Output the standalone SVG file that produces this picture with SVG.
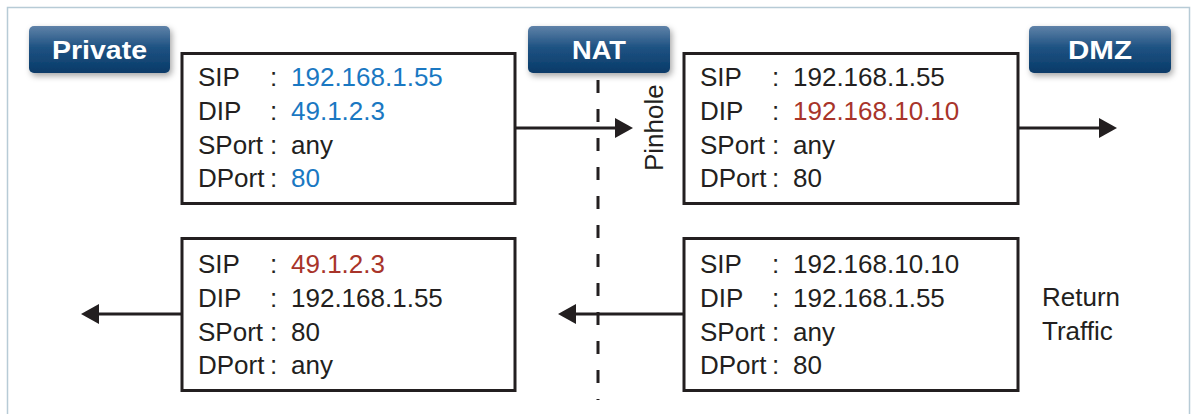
<svg xmlns="http://www.w3.org/2000/svg" width="1193" height="414" viewBox="0 0 1193 414">
  <style>
    .frame { fill: #ffffff; stroke: #b7cbd6; stroke-width: 1.5; }
    .box { fill: #ffffff; stroke: #231f20; stroke-width: 3; }
    .t { font-family: "Liberation Sans", Arial, sans-serif; font-size: 26px; fill: #231f20; }
    .blue { fill: #1a78c2; }
    .red { fill: #a8342a; }
    .btn { fill: url(#btnGrad); filter: url(#shadow); }
    .btnText { font-family: "Liberation Sans", Arial, sans-serif; font-size: 26px; font-weight: bold; fill: #ffffff; text-anchor: middle; }
    .conn { stroke: #231f20; stroke-width: 3; fill: none; }
    .dash { stroke: #231f20; stroke-width: 3; stroke-dasharray: 13 16; fill: none; }
  </style>
  <defs>
    <linearGradient id="btnGrad" x1="0" y1="0" x2="0" y2="1">
      <stop offset="0" stop-color="#5f82a8"/>
      <stop offset="0.45" stop-color="#1f5383"/>
      <stop offset="1" stop-color="#083a68"/>
    </linearGradient>
    <filter id="shadow" x="-20%" y="-30%" width="140%" height="170%">
      <feDropShadow dx="2" dy="3" stdDeviation="3" flood-color="#000000" flood-opacity="0.35"/>
    </filter>
    <marker id="arrow" viewBox="0 0 18 20" refX="10" refY="10" markerWidth="18" markerHeight="20" markerUnits="userSpaceOnUse" orient="auto">
      <path d="M0,0 L18,10 L0,20 z" fill="#231f20"/>
    </marker>
  </defs>

  <rect class="frame" x="7.5" y="7.5" width="1182" height="420"/>

  <g id="private">
    <rect class="btn" x="29" y="26" width="141" height="47" rx="5"/>
    <text class="btnText" x="99.5" y="59" textLength="95" lengthAdjust="spacingAndGlyphs">Private</text>
  </g>
  <g id="nat">
    <rect class="btn" x="528" y="26" width="142" height="47" rx="5"/>
    <text class="btnText" x="599" y="59" textLength="54" lengthAdjust="spacingAndGlyphs">NAT</text>
  </g>
  <g id="dmz">
    <rect class="btn" x="1029" y="26" width="142" height="47" rx="5"/>
    <text class="btnText" x="1100" y="59" textLength="64" lengthAdjust="spacingAndGlyphs">DMZ</text>
  </g>

  <g id="connectors">
    <line class="dash" x1="598" y1="80" x2="598" y2="400"/>
    <line class="conn" x1="515" y1="128" x2="625" y2="128" marker-end="url(#arrow)"/>
    <line class="conn" x1="1018" y1="128" x2="1109" y2="128" marker-end="url(#arrow)"/>
    <line class="conn" x1="684" y1="314" x2="566" y2="314" marker-end="url(#arrow)"/>
    <line class="conn" x1="182" y1="314" x2="89" y2="314" marker-end="url(#arrow)"/>
  </g>

  <g id="pinhole-label">
    <text class="t" transform="translate(663,171) rotate(-90)">Pinhole</text>
  </g>

  <g id="box-private-out">
    <rect class="box" x="182" y="53.5" width="333" height="150"/>
    <text class="t" x="198" y="86">SIP</text><text class="t" x="270" y="86">:</text><text class="t blue" x="291" y="86">192.168.1.55</text>
    <text class="t" x="198" y="120">DIP</text><text class="t" x="270" y="120">:</text><text class="t blue" x="291" y="120">49.1.2.3</text>
    <text class="t" x="198" y="153.5">SPort</text><text class="t" x="270" y="153.5">:</text><text class="t" x="291" y="153.5">any</text>
    <text class="t" x="198" y="187">DPort</text><text class="t" x="270" y="187">:</text><text class="t blue" x="291" y="187">80</text>
  </g>

  <g id="box-dmz-in">
    <rect class="box" x="684" y="53.5" width="334" height="150"/>
    <text class="t" x="700" y="86">SIP</text><text class="t" x="772" y="86">:</text><text class="t" x="793" y="86">192.168.1.55</text>
    <text class="t" x="700" y="120">DIP</text><text class="t" x="772" y="120">:</text><text class="t red" x="793" y="120">192.168.10.10</text>
    <text class="t" x="700" y="153.5">SPort</text><text class="t" x="772" y="153.5">:</text><text class="t" x="793" y="153.5">any</text>
    <text class="t" x="700" y="187">DPort</text><text class="t" x="772" y="187">:</text><text class="t" x="793" y="187">80</text>
  </g>

  <g id="box-private-in">
    <rect class="box" x="182" y="238.5" width="333" height="152"/>
    <text class="t" x="198" y="273">SIP</text><text class="t" x="270" y="273">:</text><text class="t red" x="291" y="273">49.1.2.3</text>
    <text class="t" x="198" y="307">DIP</text><text class="t" x="270" y="307">:</text><text class="t" x="291" y="307">192.168.1.55</text>
    <text class="t" x="198" y="340.5">SPort</text><text class="t" x="270" y="340.5">:</text><text class="t" x="291" y="340.5">80</text>
    <text class="t" x="198" y="374">DPort</text><text class="t" x="270" y="374">:</text><text class="t" x="291" y="374">any</text>
  </g>

  <g id="box-dmz-return">
    <rect class="box" x="684" y="238.5" width="334" height="152"/>
    <text class="t" x="700" y="273">SIP</text><text class="t" x="772" y="273">:</text><text class="t" x="793" y="273">192.168.10.10</text>
    <text class="t" x="700" y="307">DIP</text><text class="t" x="772" y="307">:</text><text class="t" x="793" y="307">192.168.1.55</text>
    <text class="t" x="700" y="340.5">SPort</text><text class="t" x="772" y="340.5">:</text><text class="t" x="793" y="340.5">any</text>
    <text class="t" x="700" y="374">DPort</text><text class="t" x="772" y="374">:</text><text class="t" x="793" y="374">80</text>
  </g>

  <g id="return-traffic-label">
    <text class="t" x="1042" y="306">Return</text>
    <text class="t" x="1042" y="340">Traffic</text>
  </g>
</svg>
